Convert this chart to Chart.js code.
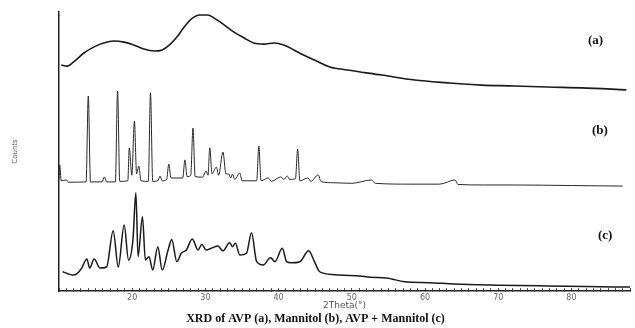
<!DOCTYPE html>
<html>
<head>
<meta charset="utf-8">
<script src="https://cdn.jsdelivr.net/npm/chart.js@4/dist/chart.umd.min.js"></script>
<style>
  html, body { margin: 0; padding: 0; background: #fff; }
</style>
</head>
<body>
<canvas id="xrd" width="635" height="328"></canvas>
<script>
// 2theta positions (deg) and intensities (arbitrary counts)
const thetaA = [10.3, 11.1, 12.0, 13.4, 14.8, 16.1, 17.5, 18.9, 20.2, 21.6, 23.0, 24.1, 25.1, 26.1, 27.1,
  28.1, 29.2, 30.3, 31.2, 32.6, 33.9, 35.3, 36.6, 38.0, 39.4, 40.7, 42.1, 43.4, 44.9, 47.0, 49.4, 54.1,
  58.6, 63.1, 67.7, 72.2, 76.7, 81.4, 87.5];
const countsA = [11.0, 10.6, 12.1, 15.3, 17.5, 18.9, 19.6, 19.2, 18.2, 16.7, 16.0, 16.4, 18.2, 21.0, 24.6,
  27.5, 28.9, 28.9, 27.8, 25.3, 22.8, 20.7, 18.9, 18.5, 18.9, 18.2, 16.4, 14.6, 12.8, 10.3, 9.2, 7.4,
  5.6, 4.6, 3.8, 3.5, 3.1, 2.8, 2.1];

const thetaB = [10.0, 10.1, 10.3, 11.0, 11.3, 13.7, 14.0, 14.3, 15.9, 16.2, 16.5, 17.7, 18.0, 18.3, 19.4,
  19.6, 19.95, 20.3, 20.6, 20.9, 21.2, 22.2, 22.5, 22.8, 23.5, 23.8, 24.1, 24.7, 25.0, 25.3, 26.9, 27.2,
  27.5, 28.0, 28.3, 28.6, 29.6, 30.1, 30.35, 30.6, 30.9, 31.5, 31.8, 32.4, 32.8, 33.2, 33.45, 33.7, 34.0,
  34.7, 35.0, 37.0, 37.3, 37.6, 38.6, 39.0, 40.3, 40.7, 41.2, 41.5, 42.3, 42.6, 42.9, 44.0, 44.4, 45.4,
  45.8, 47.5, 50.0, 52.7, 53.2, 58.0, 62.0, 64.1, 64.5, 68.0, 72.0, 80.0, 87.0];
const countsB = [3.0, 8.2, 2.5, 2.8, 2.0, 2.1, 32.9, 2.1, 2.1, 3.9, 2.1, 2.1, 34.7, 2.3, 2.5,
  14.3, 4.5, 23.9, 5.0, 7.8, 2.5, 2.3, 34.0, 2.3, 2.5, 4.2, 2.5, 3.0, 8.5, 3.5, 3.5, 10.0,
  4.0, 4.5, 21.4, 4.0, 3.8, 6.0, 4.5, 14.3, 5.0, 7.4, 4.5, 12.8, 5.0, 4.9, 3.5, 4.9, 3.0,
  5.3, 2.5, 2.5, 15.0, 2.5, 3.5, 2.3, 3.9, 3.0, 4.2, 3.0, 3.2, 13.9, 2.5, 3.5, 2.3, 4.6,
  2.2, 1.8, 1.6, 2.8, 1.6, 1.3, 1.3, 2.8, 1.2, 1.0, 1.0, 0.8, 0.6];

const thetaC = [10.5, 11.2, 11.9, 12.5, 13.1, 13.8, 14.2, 14.8, 15.6, 16.5, 17.4, 18.1, 18.9, 19.5, 20.1,
  20.5, 20.8, 21.4, 21.8, 22.3, 22.8, 23.5, 24.1, 24.9, 25.4, 26.1, 26.7, 27.4, 28.2, 29.0, 29.5, 30.1,
  30.8, 31.7, 32.4, 33.3, 33.7, 34.1, 34.7, 35.6, 36.3, 37.0, 37.9, 38.9, 39.5, 40.5, 41.1, 41.7, 42.9,
  44.1, 44.9, 45.5, 46.0, 48.3, 51.1, 52.5, 54.7, 57.2, 60.5, 64.0, 70.0, 76.7, 82.0, 88.0];
const countsC = [6.9, 6.2, 5.7, 6.3, 8.2, 11.5, 8.2, 11.5, 8.2, 8.6, 21.6, 8.6, 23.7, 11.1, 18.3,
  35.2, 12.3, 26.6, 11.1, 12.3, 7.5, 15.9, 7.5, 14.7, 18.5, 10.5, 13.5, 14.7, 18.6, 14.7, 16.7, 14.7,
  15.3, 16.1, 14.4, 17.3, 15.9, 17.1, 12.9, 13.5, 20.9, 10.5, 9.3, 11.9, 10.5, 15.3, 10.5, 10.1, 10.5,
  14.4, 10.5, 7.2, 6.5, 5.7, 5.4, 4.9, 4.7, 3.3, 3.0, 2.5, 2.1, 1.8, 1.6, 1.4];

const seriesNames = ['(a)', '(b)', '(c)'];
const xTickLabels = [20, 30, 40, 50, 60, 70, 80];

// vertical offsets used to stack the three patterns
const offsets = [70, 37, 0];
// where the (a)/(b)/(c) tags sit, in data units
const tagAt = [{ x: 83.3, y: 89.6 }, { x: 83.9, y: 57.3 }, { x: 84.6, y: 19.7 }];

function toPoints(xs, ys, off) {
  return xs.map((x, i) => ({ x: x, y: ys[i] + off }));
}

const tagPlugin = {
  id: 'tags',
  afterDatasetsDraw(chart) {
    const { ctx, scales } = chart;
    ctx.save();
    ctx.fillStyle = '#111';
    ctx.font = 'bold 13px "Liberation Serif", serif';
    ctx.textAlign = 'center';
    ctx.textBaseline = 'middle';
    seriesNames.forEach((name, i) => {
      ctx.fillText(name, scales.x.getPixelForValue(tagAt[i].x), scales.y.getPixelForValue(tagAt[i].y));
    });
    ctx.restore();
  },
};

const ctx = document.getElementById('xrd').getContext('2d');
const lineStyle = { borderColor: '#1a1a1a', pointRadius: 0, fill: false, cubicInterpolationMode: 'monotone' };

new Chart(ctx, {
  type: 'line',
  data: {
    datasets: [
      { ...lineStyle, label: seriesNames[0], data: toPoints(thetaA, countsA, offsets[0]), borderWidth: 1.6 },
      { ...lineStyle, label: seriesNames[1], data: toPoints(thetaB, countsB, offsets[1]), borderWidth: 1, borderColor: '#2a2a2a' },
      { ...lineStyle, label: seriesNames[2], data: toPoints(thetaC, countsC, offsets[2]), borderWidth: 1.5 },
    ],
  },
  options: {
    responsive: false,
    animation: false,
    devicePixelRatio: 1,
    layout: { padding: { top: 12, right: 4, left: 0, bottom: 1 } },
    plugins: {
      legend: { display: false },
      tooltip: { enabled: false },
      title: {
        display: true,
        position: 'bottom',
        text: 'XRD of AVP (a), Mannitol (b), AVP + Mannitol (c)',
        color: '#111',
        font: { family: '"Liberation Serif", serif', size: 12, weight: 'bold' },
        padding: { top: 2, bottom: 1 },
      },
    },
    scales: {
      x: {
        type: 'linear',
        min: 10,
        max: 88,
        afterFit(scale) { scale.height = 18.6; },
        border: { display: true, color: '#222', width: 1.5 },
        grid: { display: true, drawOnChartArea: false, drawTicks: true, tickLength: -3, color: '#555' },
        ticks: {
          stepSize: 1,
          autoSkip: false,
          maxRotation: 0,
          padding: 5,
          color: '#666',
          font: { family: '"DejaVu Sans", sans-serif', size: 8 },
          callback: (v) => (xTickLabels.includes(v) ? String(v) : ''),
        },
        title: {
          display: true,
          text: '2Theta(°)',
          color: '#555',
          font: { family: '"DejaVu Sans", sans-serif', size: 9 },
          padding: { top: 0, bottom: -1.5 },
        },
      },
      y: {
        min: 0,
        max: 100,
        afterFit(scale) { scale.width = 59; },
        border: { display: true, color: '#222', width: 1.5 },
        grid: { display: false },
        ticks: { display: false },
        title: {
          display: true,
          text: 'Counts',
          color: '#555',
          font: { family: '"DejaVu Sans", sans-serif', size: 7 },
          padding: { top: 11, bottom: 0 },
        },
      },
    },
  },
  plugins: [tagPlugin],
});
</script>
</body>
</html>
